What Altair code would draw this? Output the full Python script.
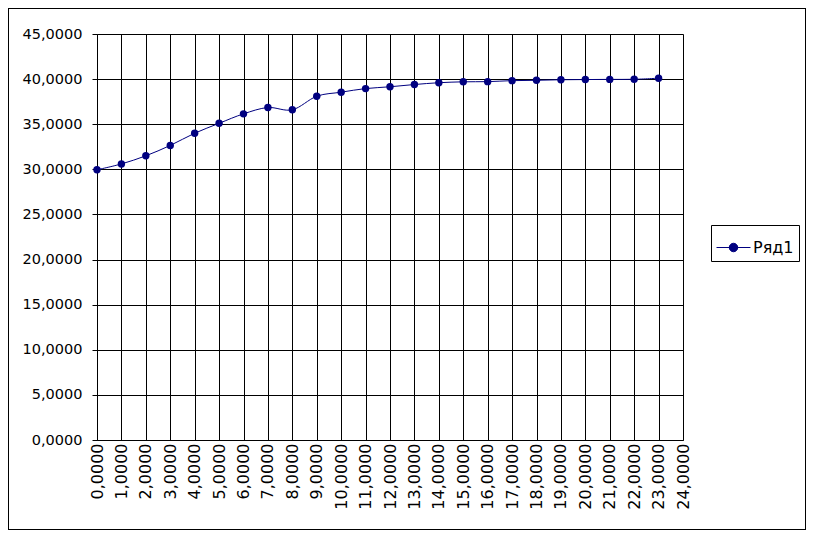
import altair as alt
import pandas as pd

x_vals = list(range(24))
y_vals = [29.95, 30.6, 31.5, 32.65, 34.0, 35.1, 36.15, 36.85, 36.6, 38.1,
          38.55, 38.95, 39.15, 39.4, 39.6, 39.7, 39.72, 39.83, 39.87, 39.93,
          39.95, 39.97, 39.98, 40.1]
series_name = "Ряд1"

df = pd.DataFrame({"x": x_vals, "y": y_vals, "series": [series_name] * len(x_vals)})

FONT = "DejaVu Sans"
NAVY = "#000080"
fmt = "replace(format(datum.value, '.4f'), '.', ',')"

legend_shape = "M-1,0H1M-0.25,0A0.25,0.25,0,1,1,0.25,0A0.25,0.25,0,1,1,-0.25,0Z"

xenc = alt.X("x:Q", scale=alt.Scale(domain=[0, 24], nice=False),
             axis=alt.Axis(values=list(range(25)), title=None, labelExpr=fmt,
                           labelAngle=270, labelAlign="right", labelBaseline="middle",
                           labelFont=FONT, labelFontSize=16, labelColor="black",
                           labelPadding=3, tickSize=0, grid=True, gridColor="black",
                           gridOpacity=1, domainColor="black", labelOverlap=False,
                           labelBound=False, labelFlush=False))
yenc = alt.Y("y:Q", scale=alt.Scale(domain=[0, 45], nice=False),
             axis=alt.Axis(values=list(range(0, 50, 5)), title=None, labelExpr=fmt,
                           labelFont=FONT, labelFontSize=14.5, labelColor="black",
                           labelPadding=10, tickSize=5, tickColor="black",
                           grid=True, gridColor="black", gridOpacity=1,
                           domainColor="black", labelOverlap=False, labelFlush=False))
color = alt.Color("series:N", scale=alt.Scale(range=[NAVY]),
                  legend=alt.Legend(title=None, orient="none", legendX=614, legendY=191,
                                    strokeColor="black", padding=5, fillColor="white",
                                    symbolType=legend_shape, symbolSize=1156,
                                    symbolFillColor=NAVY, symbolStrokeColor=NAVY,
                                    symbolStrokeWidth=1, symbolOpacity=1,
                                    labelFont=FONT, labelFontSize=16, labelColor="black",
                                    labelOffset=2, cornerRadius=0))

line = alt.Chart(df).mark_line(interpolate="cardinal", strokeWidth=1).encode(
    x=xenc, y=yenc, color=color)
pts = alt.Chart(df).mark_point(filled=True, size=55, opacity=1, shape="circle").encode(
    x=xenc, y=yenc, color=alt.Color("series:N", legend=None))

frame = alt.Chart(df).mark_rect(fill=None, stroke="black", strokeWidth=1, clip=False).encode(
    x=alt.value(-88.5), x2=alt.value(708.5), y=alt.value(-25.5), y2=alt.value(495.5))

chart = alt.layer(frame, line, pts).properties(
    width=586, height=406,
    autosize=alt.AutoSizeParams(type="none"),
    padding={"left": 89, "top": 26, "right": 125, "bottom": 90},
).configure_view(stroke="black", strokeWidth=1).configure_axis(
    labelOverlap=False
).configure(background="white")

chart.save("out.html", embed_options={"renderer": "svg", "actions": False})
